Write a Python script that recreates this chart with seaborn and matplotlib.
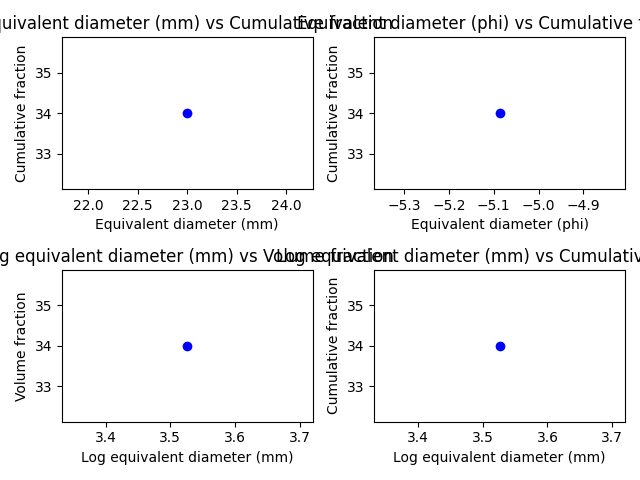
import matplotlib
matplotlib.use("Agg")
import matplotlib.pyplot as plt
import seaborn as sns
import pandas as pd

diameter_mm = [23.0]
diameter_phi = [-5.087]
log_diameter_mm = [3.526]
cumulative_fraction = [34.0]
volume_fraction = [34.0]

panels = [
    (diameter_mm, cumulative_fraction, "Equivalent diameter (mm)", "Cumulative fraction",
     "Equivalent diameter (mm) vs Cumulative fraction"),
    (diameter_phi, cumulative_fraction, "Equivalent diameter (phi)", "Cumulative fraction",
     "Equivalent diameter (phi) vs Cumulative fraction"),
    (log_diameter_mm, volume_fraction, "Log equivalent diameter (mm)", "Volume fraction",
     "Log equivalent diameter (mm) vs Volume fraction"),
    (log_diameter_mm, cumulative_fraction, "Log equivalent diameter (mm)", "Cumulative fraction",
     "Log equivalent diameter (mm) vs Cumulative fraction"),
]

fig, axes = plt.subplots(2, 2, figsize=(6.4, 4.8), dpi=100)
for ax, (xv, yv, xl, yl, title) in zip(axes.flat, panels):
    df = pd.DataFrame({"x": xv, "y": yv})
    sns.scatterplot(data=df, x="x", y="y", ax=ax, color="blue", s=36,
                    edgecolor="blue", linewidth=1)
    ax.set_xlabel(xl)
    ax.set_ylabel(yl)
    ax.set_title(title)
fig.tight_layout()
fig.savefig("out.png", dpi=100)
